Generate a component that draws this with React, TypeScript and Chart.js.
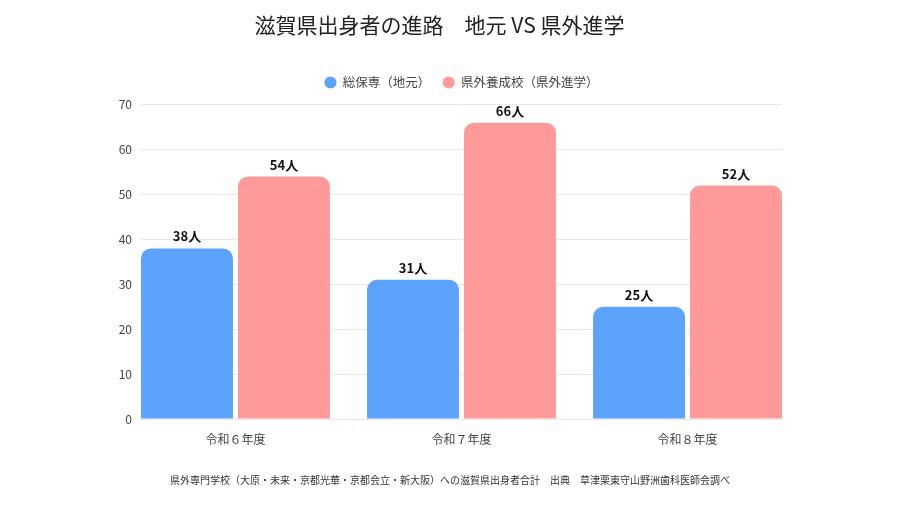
import React, { useEffect, useRef } from "react";
import { Chart, registerables } from "chart.js";

Chart.register(...registerables);

const categories = ["令和６年度", "令和７年度", "令和８年度"];
const localValues = [38, 31, 25];
const outsideValues = [54, 66, 52];
const seriesNames = ["総保専（地元）", "県外養成校（県外進学）"];
const titleText = "滋賀県出身者の進路　地元 VS 県外進学　";
const footerText =
  "県外専門学校（大原・未来・京都光華・京都会立・新大阪）への滋賀県出身者合計　出典　草津栗東守山野洲歯科医師会調べ";
const unit = "人";

const FONT = "'Noto Sans CJK JP', 'Noto Sans', sans-serif";

const valueLabelPlugin = {
  id: "valueLabels",
  afterDatasetsDraw(chart: any) {
    const ctx = chart.ctx;
    ctx.save();
    ctx.font = `bold 13px ${FONT}`;
    ctx.fillStyle = "#111111";
    ctx.textAlign = "center";
    ctx.textBaseline = "alphabetic";
    chart.data.datasets.forEach((ds: any, di: number) => {
      const meta = chart.getDatasetMeta(di);
      meta.data.forEach((bar: any, i: number) => {
        const v = ds.data[i].y;
        ctx.fillText(`${v}${unit}`, bar.x, bar.y - 7);
      });
    });
    ctx.restore();
  },
};

export default function App() {
  const ref = useRef<HTMLCanvasElement | null>(null);
  useEffect(() => {
    if (!ref.current) return;
    const chart = new Chart(ref.current, {
      type: "bar",
      data: {
        datasets: [
          {
            label: seriesNames[0],
            data: localValues.map((v, i) => ({ x: i, y: v })),
            backgroundColor: "#5ca3fd",
            borderRadius: 10,
            borderSkipped: "start",
            categoryPercentage: 0.858,
            barPercentage: 0.948,
            xAxisID: "x",
            yAxisID: "y",
          },
          {
            label: seriesNames[1],
            data: outsideValues.map((v, i) => ({ x: i, y: v })),
            backgroundColor: "#ff9a9a",
            borderRadius: 10,
            borderSkipped: "start",
            categoryPercentage: 0.858,
            barPercentage: 0.948,
            xAxisID: "x",
            yAxisID: "y",
          },
        ] as any,
      },
      plugins: [valueLabelPlugin],
      options: {
        animation: false,
        responsive: true,
        maintainAspectRatio: false,
        layout: { padding: 0 },
        plugins: {
          title: {
            display: true,
            text: titleText,
            color: "#222222",
            font: { family: FONT, size: 21, weight: "normal" },
            padding: { top: 4, bottom: 26.5 },
          },
          subtitle: {
            display: true,
            position: "bottom",
            text: footerText,
            color: "#333333",
            font: { family: FONT, size: 10, weight: "normal" },
            padding: { top: 0, bottom: 12 },
          },
          legend: {
            display: true,
            position: "top",
            fullSize: false,
            labels: {
              usePointStyle: true,
              pointStyle: "circle",
              boxWidth: 12,
              boxHeight: 8.5,
              padding: 12.5,
              color: "#444444",
              font: { family: FONT, size: 12.5 },
            },
          },
          tooltip: { enabled: false },
        },
        scales: {
          x: {
            type: "linear",
            offset: false,
            min: -0.418,
            max: 2.418,
            grid: { display: false },
            border: { display: false },
            afterBuildTicks: (s: any) => {
              s.ticks = categories.map((_, i) => ({ value: i }));
            },
            afterFit: (s: any) => {
              s.height = 55;
            },
            ticks: {
              autoSkip: false,
              maxRotation: 0,
              padding: 5,
              color: "#444444",
              font: { family: FONT, size: 12 },
              callback: (v: any) => categories[Math.round(Number(v))] ?? "",
            },
          },
          xTopSpacer: {
            type: "category",
            position: "top",
            labels: [""],
            grid: { display: false },
            border: { display: false },
            ticks: { display: false },
            afterFit: (s: any) => {
              s.height = 6;
            },
          },
          y: {
            min: 0,
            max: 70,
            grid: { color: "#e8e8e8", drawTicks: false },
            border: { display: false },
            afterFit: (s: any) => {
              s.width = 133;
            },
            ticks: {
              stepSize: 10,
              padding: 9,
              color: "#444444",
              font: { family: FONT, size: 12 },
            },
          },
          yRightSpacer: {
            type: "linear",
            position: "right",
            grid: { display: false },
            border: { display: false },
            ticks: { display: false },
            afterFit: (s: any) => {
              s.width = 110;
            },
          },
        },
      } as any,
    });
    return () => chart.destroy();
  }, []);
  return (
    <div style={{ width: 884, height: 490, position: "relative" }}>
      <canvas ref={ref} />
    </div>
  );
}
